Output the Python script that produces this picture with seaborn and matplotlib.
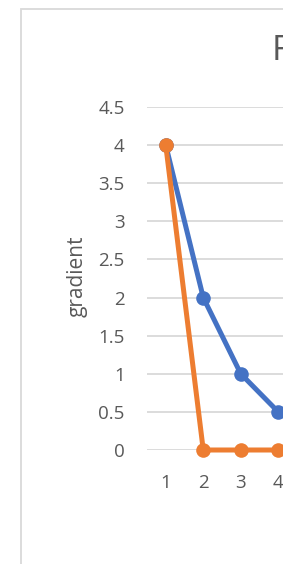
import pandas as pd
import seaborn as sns
import matplotlib.pyplot as plt
from matplotlib.patches import Rectangle

# --- datos ---
pasos = [1, 2, 3, 4]
gradiente_azul = [4, 2, 1, 0.5]
gradiente_naranja = [4, 0, 0, 0]
series = ['azul', 'naranja']
colores = ['#4472C4', '#ED7D31']
yticks = [0, 0.5, 1, 1.5, 2, 2.5, 3, 3.5, 4, 4.5]
titulo = 'F'

df = pd.DataFrame({
    'paso': pasos * 2,
    'gradient': gradiente_azul + gradiente_naranja,
    'serie': [series[0]] * len(pasos) + [series[1]] * len(pasos),
})

sns.set_style('white')
plt.rcParams['font.family'] = ['Open Sans', 'DejaVu Sans']

W, H = 283, 564
fig = plt.figure(figsize=(W / 100, H / 100), dpi=100)

# plot area: empieza en x=147, una categoria cada 37.5 px, sigue fuera de la imagen
paso_px = 37.5
n_cat = 5
ax = fig.add_axes([147 / W, (H - 450) / H, paso_px * n_cat / W, 343 / H])

sns.lineplot(data=df, x='paso', y='gradient', hue='serie', palette=colores,
             marker='o', markersize=10.5, markeredgewidth=0, linewidth=3.6,
             legend=False, ax=ax, clip_on=False, zorder=3)

ax.set_xlim(0.5, 0.5 + n_cat)
ax.set_ylim(0, 4.5)
ax.set_xticks(pasos)
ax.set_xticklabels([str(p) for p in pasos])
ax.set_yticks(yticks)
ax.set_yticklabels([f'{t:g}' for t in yticks])
ax.grid(axis='y', color='#D9D9D9', linewidth=1.3)
ax.grid(axis='x', visible=False)
ax.set_axisbelow(True)
for s in ax.spines.values():
    s.set_visible(False)

ax.tick_params(axis='both', length=0, labelsize=13.5, labelcolor='#595959')
ax.tick_params(axis='y', pad=16)
ax.tick_params(axis='x', pad=17)
ax.set_xlabel('')
ax.set_ylabel('gradient', fontsize=15, color='#595959', va='center')
ax.yaxis.set_label_coords(77 / W, 1 - 276 / H, transform=fig.transFigure)

# titulo cortado por el borde derecho
fig.text(272 / W, 1 - 34 / H, titulo, fontsize=25, color='#595959',
         ha='left', va='top')

# borde del area del grafico
fig.add_artist(Rectangle((20.5 / W, -0.5), 2, 1.5 - 8.5 / H,
                         transform=fig.transFigure, fill=False,
                         edgecolor='#D9D9D9', linewidth=1.3))

fig.savefig('out.png', dpi=100)
